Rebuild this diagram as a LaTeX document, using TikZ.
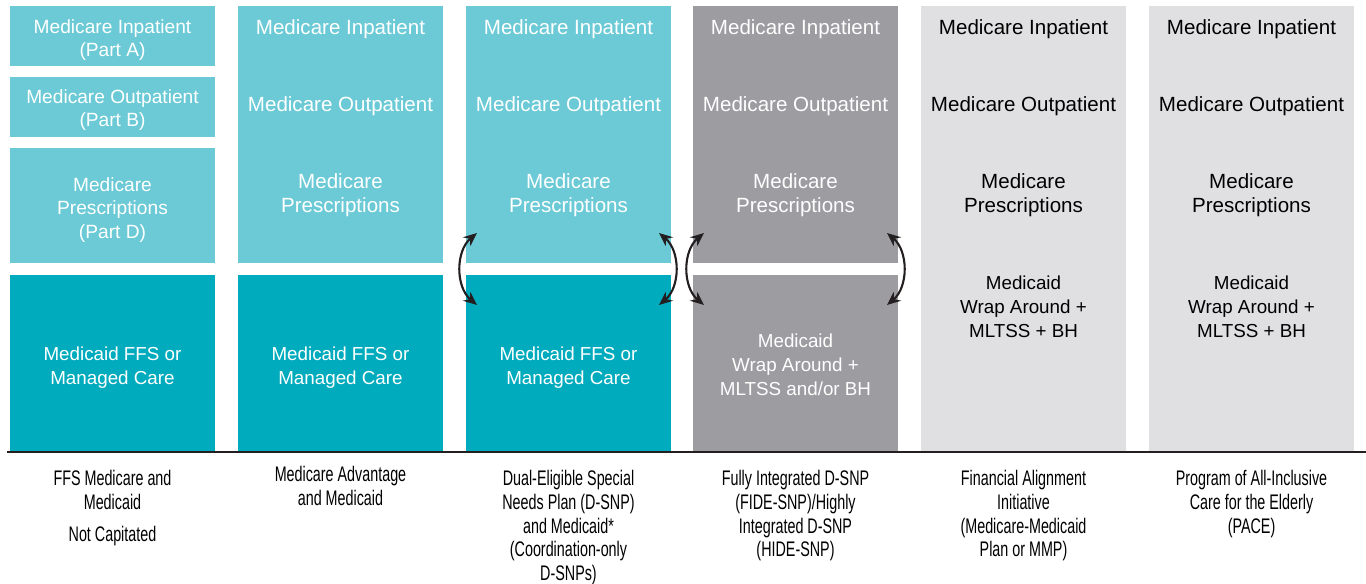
\documentclass[tikz,border=0pt]{standalone}
\usepackage{fontspec}
\setmainfont{Liberation Sans}
\newfontfamily\condfont[FakeStretch=0.68]{Liberation Sans}
\usetikzlibrary{arrows.meta}

\definecolor{tealL}{HTML}{6BCAD6}
\definecolor{tealD}{HTML}{00ABBD}
\definecolor{grayD}{HTML}{9C9CA1}
\definecolor{grayL}{HTML}{E0E0E2}
\definecolor{ruleC}{HTML}{231F20}

\begin{document}
\begin{tikzpicture}[
    x=0.02cm, y=-0.02cm,
    >={Stealth[length=2.7mm,width=2.3mm]},
    every node/.style={font=\fontsize{11.7}{13.7}\selectfont},
    tile/.style={anchor=north, inner sep=0, minimum width=4.1cm},
    lab/.style={align=center, inner sep=0},
    partlab/.style={font=\fontsize{10.9}{13.4}\selectfont},
    caidlab/.style={font=\fontsize{10.7}{13.7}\selectfont},
    planlab/.style={align=center, inner sep=0, anchor=north,
      font=\condfont\fontsize{12}{13.5}\selectfont},
    link/.style={<->, line width=1.2pt, draw=ruleC}
  ]

    \useasboundingbox (0,0) rectangle (1366,584);

    %=== X (column centres) ===%
    \def\xA{112.5}
    \def\xB{340.5}
    \def\xC{568.5}
    \def\xD{795.5}
    \def\xE{1023.5}
    \def\xF{1251.5}

    %=== FFS column (Parts A, B, D) ===%
    \node[tile, fill=tealL, minimum height=1.2cm]  (pA) at (\xA,6)   {};
    \node[tile, fill=tealL, minimum height=1.2cm]  (pB) at (\xA,77)  {};
    \node[tile, fill=tealL, minimum height=2.3cm]  (pD) at (\xA,148) {};
    \node[tile, fill=tealD, minimum height=3.54cm] (mA) at (\xA,275) {};

    \node[lab, partlab, text=white] (tpA) at (\xA,40)  {Medicare Inpatient\\(Part A)};
    \node[lab, partlab, text=white] (tpB) at (\xA,110) {Medicare Outpatient\\(Part B)};
    \node[lab, partlab, text=white] (tpD) at (\xA,210) {Medicare\\Prescriptions\\(Part D)};

    %=== MA and D-SNP columns ===%
    \foreach \x/\n in {\xB/B, \xC/C}{
      \node[tile, fill=tealL, minimum height=5.14cm] (top\n) at (\x,6)   {};
      \node[tile, fill=tealD, minimum height=3.54cm] (bot\n) at (\x,275) {};
    }

    %=== FIDE/HIDE column ===%
    \node[tile, fill=grayD, minimum height=5.14cm] (topD) at (\xD,6)   {};
    \node[tile, fill=grayD, minimum height=3.54cm] (botD) at (\xD,275) {};

    %=== MMP and PACE columns ===%
    \node[tile, fill=grayL, minimum height=8.92cm] (allE) at (\xE,6) {};
    \node[tile, fill=grayL, minimum height=8.92cm] (allF) at (\xF,6) {};

    %=== Medicare texts ===%
    \foreach \x/\c/\n in {\xB/white/B, \xC/white/C, \xD/white/D, \xE/black/E, \xF/black/F}{
      \node[lab, text=\c] (in\n)  at (\x,29)  {Medicare Inpatient};
      \node[lab, text=\c] (out\n) at (\x,106) {Medicare Outpatient};
      \node[lab, text=\c] (rx\n)  at (\x,195) {Medicare\\Prescriptions};
    }

    %=== Medicaid texts ===%
    \foreach \x/\n in {\xA/A, \xB/B, \xC/C}{
      \node[lab, caidlab, text=white] (mcd\n) at (\x,368) {Medicaid FFS or\\Managed Care};
    }
    \node[lab, caidlab, text=white] (mcdD) at (\xD,365) {Medicaid\\Wrap Around +\\MLTSS and/or BH};
    \node[lab, caidlab] (mcdE) at (\xE,307) {Medicaid\\Wrap Around +\\MLTSS + BH};
    \node[lab, caidlab] (mcdF) at (\xF,307) {Medicaid\\Wrap Around +\\MLTSS + BH};

    %=== coordination arrows ===%
    \coordinate (lCt) at (477,233);
    \coordinate (lCb) at (477,305);
    \coordinate (rCt) at (659,233);
    \coordinate (rCb) at (659,305);
    \coordinate (lDt) at (704,233);
    \coordinate (lDb) at (704,305);
    \coordinate (rDt) at (887,233);
    \coordinate (rDb) at (887,305);

    \draw[link] (lCt) to[bend right=50] (lCb);
    \draw[link] (rCt) to[bend left=50]  (rCb);
    \draw[link] (lDt) to[bend right=50] (lDb);
    \draw[link] (rDt) to[bend left=50]  (rDb);

    % base line
    \draw[ruleC, line width=1.1pt] (7,452) -- (1366,452);

    %=== plan names ===%
    \node[planlab] (nA) at (\xA,470) {FFS Medicare and\\Medicaid\\[0.16cm]Not Capitated};
    \node[planlab] (nB) at (\xB,466) {Medicare Advantage\\and Medicaid};
    \node[planlab] (nC) at (\xC,470)
      {Dual-Eligible Special\\Needs Plan (D-SNP)\\and Medicaid*\\(Coordination-only\\D-SNPs)};
    \node[planlab] (nD) at (\xD,470)
      {Fully Integrated D-SNP\\(FIDE-SNP)/Highly\\Integrated D-SNP\\(HIDE-SNP)};
    \node[planlab] (nE) at (\xE,470)
      {Financial Alignment\\Initiative\\(Medicare-Medicaid\\Plan or MMP)};
    \node[planlab] (nF) at (\xF,470)
      {Program of All-Inclusive\\Care for the Elderly\\(PACE)};

  \end{tikzpicture}
\end{document}
